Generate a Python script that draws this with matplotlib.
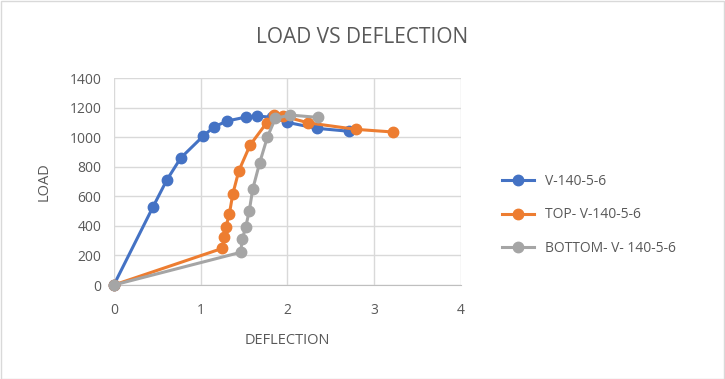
import matplotlib
matplotlib.use("Agg")
import matplotlib.pyplot as plt

plt.rcParams['font.family'] = ['Open Sans', 'DejaVu Sans']

# deflection / load readings per series
blue_x = [0, 0.45, 0.61, 0.77, 1.03, 1.15, 1.30, 1.52, 1.65, 1.82, 2.00, 2.34, 2.71]
blue_y = [0, 527, 710, 859, 1008, 1068, 1109, 1136, 1143, 1135, 1100, 1060, 1040]

orange_x = [0, 1.25, 1.27, 1.29, 1.33, 1.37, 1.44, 1.57, 1.76, 1.84, 1.95, 2.24, 2.79, 3.22]
orange_y = [0, 248, 322, 390, 478, 615, 773, 947, 1097, 1150, 1143, 1097, 1053, 1035]

gray_x = [0, 1.46, 1.48, 1.52, 1.56, 1.60, 1.68, 1.77, 1.86, 2.03, 2.35]
gray_y = [0, 221, 311, 394, 502, 649, 827, 1003, 1127, 1150, 1134]

labels = ["V-140-5-6", "TOP- V-140-5-6", "BOTTOM- V- 140-5-6"]
colors = ["#4472C4", "#ED7D31", "#A5A5A5"]

fig = plt.figure(figsize=(7.25, 3.79), dpi=100)
ax = fig.add_axes([0.157, 0.248, 0.479, 0.546])

series = [(blue_x, blue_y), (orange_x, orange_y), (gray_x, gray_y)]
for (xs, ys), lab, c in zip(series, labels, colors):
    ax.plot(xs, ys, color=c, lw=2.2, marker='o', ms=7.5, label=lab,
            zorder=3, clip_on=False)

ax.set_xlim(0, 4)
ax.set_ylim(0, 1400)
ax.set_xticks([0, 1, 2, 3, 4])
ax.set_yticks(range(0, 1401, 200))
ax.grid(True, color='#D9D9D9', lw=1)
ax.set_axisbelow(True)
for s in ['top', 'right', 'left']:
    ax.spines[s].set_visible(False)
ax.spines['bottom'].set_color('#BFBFBF')
ax.tick_params(length=0, labelsize=10, colors='#595959')
ax.tick_params(axis='x', pad=13)
ax.tick_params(axis='y', pad=9)

ax.set_xlabel("DEFLECTION", fontsize=10.5, color='#595959', labelpad=11)
ax.set_ylabel("LOAD", fontsize=10.5, color='#595959', labelpad=13)
fig.text(0.5, 0.902, "LOAD VS DEFLECTION", ha='center', va='center',
         fontsize=15, color='#595959')

ax.legend(loc='center left', bbox_to_anchor=(0.675, 0.433),
          bbox_transform=fig.transFigure, frameon=False,
          fontsize=10, labelcolor='#595959', labelspacing=1.35, handlelength=2.3)

fig.patches.append(plt.Rectangle((0.001, 0.001), 0.997, 0.997, transform=fig.transFigure,
                                 fill=False, edgecolor='#D9D9D9', lw=1))

fig.savefig("out.png", dpi=100)
